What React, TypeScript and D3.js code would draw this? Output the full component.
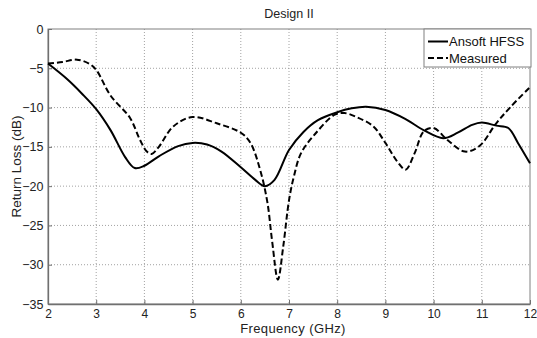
import { useEffect, useRef } from "react";
import * as d3 from "d3";

const width = 537;
const height = 338;
const margin = { top: 29, right: 7, bottom: 34, left: 48 };

const xTicks = [2, 3, 4, 5, 6, 7, 8, 9, 10, 11, 12];
const yTicks = [0, -5, -10, -15, -20, -25, -30, -35];

// Ansoft HFSS (simulated)
const hfssFreq = [
  2, 2.4, 2.7, 3.0, 3.3, 3.6, 3.8, 4.0, 4.3, 4.7, 5.0, 5.3, 5.6, 6.0, 6.3,
  6.5, 6.7, 7.0, 7.3, 7.6, 8.0, 8.3, 8.6, 9.0, 9.4, 9.8, 10.2, 10.5, 10.8,
  11.0, 11.3, 11.55, 11.75, 12,
];
const hfssLoss = [
  -4.4, -6.4, -8.2, -10.2, -12.9, -16.3, -17.7, -17.4, -16.2, -14.9, -14.5,
  -14.7, -15.6, -17.6, -19.2, -20.0, -19.2, -15.4, -13.1, -11.6, -10.6, -10.1,
  -9.9, -10.3, -11.4, -12.9, -13.9, -13.2, -12.2, -11.9, -12.3, -12.6, -14.5,
  -17.1,
];

// Measured
const measFreq = [
  2, 2.3, 2.6, 2.85, 3.0, 3.3, 3.7, 3.9, 4.05, 4.15, 4.3, 4.6, 5.0, 5.5, 6.0,
  6.2, 6.4, 6.55, 6.65, 6.77, 6.88, 7.0, 7.1, 7.25, 7.55, 7.95, 8.15, 8.4,
  8.75, 9.0, 9.25, 9.42, 9.6, 9.8, 10.0, 10.3, 10.65, 10.95, 11.3, 11.6, 12,
];
const measLoss = [
  -4.4, -4.2, -3.9, -4.4, -5.2, -8.5, -11.3, -14.0, -15.6, -15.9, -15.0, -12.4,
  -11.2, -12.0, -13.2, -14.5, -17.9, -22.0, -27.0, -31.9, -27.7, -21.8, -18.8,
  -15.8, -13.3, -10.9, -10.7, -11.2, -12.4, -14.5, -16.9, -17.9, -15.9, -13.0,
  -12.6, -14.2, -15.6, -14.9, -12.0, -9.9, -7.4,
];

const legendItems = [
  { label: "Ansoft HFSS", dash: null },
  { label: "Measured", dash: "6 3" },
];

type Pt = [number, number];

export default function App() {
  const svgRef = useRef<SVGSVGElement | null>(null);

  useEffect(() => {
    if (!svgRef.current) return;
    const svg = d3.select(svgRef.current);
    svg.selectAll("*").remove();

    const x = d3
      .scaleLinear()
      .domain([2, 12])
      .range([margin.left, width - margin.right]);
    const y = d3
      .scaleLinear()
      .domain([-35, 0])
      .range([height - margin.bottom, margin.top]);

    const font = "'Liberation Sans', Arial, sans-serif";

    svg
      .append("rect")
      .attr("width", width)
      .attr("height", height)
      .attr("fill", "#fff");

    // grid
    const grid = svg.append("g");
    grid
      .selectAll("line.gx")
      .data(xTicks.slice(1, -1))
      .join("line")
      .attr("x1", (d) => x(d))
      .attr("x2", (d) => x(d))
      .attr("y1", y(0))
      .attr("y2", y(-35))
      .attr("stroke", "#8a8a8a")
      .attr("stroke-width", 0.8)
      .attr("stroke-dasharray", "1 2");
    grid
      .selectAll("line.gy")
      .data(yTicks.slice(1, -1))
      .join("line")
      .attr("x1", x(2))
      .attr("x2", x(12))
      .attr("y1", (d) => y(d))
      .attr("y2", (d) => y(d))
      .attr("stroke", "#8a8a8a")
      .attr("stroke-width", 0.8)
      .attr("stroke-dasharray", "1 2");

    // frame
    svg
      .append("rect")
      .attr("x", x(2))
      .attr("y", y(0))
      .attr("width", x(12) - x(2))
      .attr("height", y(-35) - y(0))
      .attr("fill", "none")
      .attr("stroke", "#808080")
      .attr("stroke-width", 1);

    // axes
    const xAxis = svg
      .append("g")
      .attr("transform", `translate(0,${y(-35)})`)
      .call(
        d3
          .axisBottom(x)
          .tickValues(xTicks)
          .tickSizeInner(-4)
          .tickSizeOuter(0)
          .tickPadding(5)
          .tickFormat(d3.format("d")),
      );
    xAxis.select(".domain").attr("stroke", "#707070").attr("stroke-width", 1.3);
    xAxis.selectAll(".tick line").attr("stroke", "#707070");
    xAxis
      .selectAll("text")
      .attr("fill", "#222")
      .style("font-family", font)
      .style("font-size", "12px");

    const yAxis = svg
      .append("g")
      .attr("transform", `translate(${x(2)},0)`)
      .call(
        d3
          .axisLeft(y)
          .tickValues(yTicks)
          .tickSizeInner(-4)
          .tickSizeOuter(0)
          .tickPadding(4.5)
          .tickFormat(d3.format("d")),
      );
    yAxis.select(".domain").attr("stroke", "#707070").attr("stroke-width", 1.3);
    yAxis.selectAll(".tick line").attr("stroke", "#707070");
    yAxis
      .selectAll("text")
      .attr("fill", "#222")
      .style("font-family", font)
      .style("font-size", "12.5px");

    // curves
    const line = d3
      .line<Pt>()
      .x((d) => x(d[0]))
      .y((d) => y(d[1]))
      .curve(d3.curveCatmullRom.alpha(0.5));

    const hfss: Pt[] = hfssFreq.map((f, i) => [f, hfssLoss[i]]);
    const meas: Pt[] = measFreq.map((f, i) => [f, measLoss[i]]);

    svg
      .append("path")
      .datum(hfss)
      .attr("d", line)
      .attr("fill", "none")
      .attr("stroke", "#000")
      .attr("stroke-width", 2);

    svg
      .append("path")
      .datum(meas)
      .attr("d", line)
      .attr("fill", "none")
      .attr("stroke", "#000")
      .attr("stroke-width", 2)
      .attr("stroke-dasharray", "6 3");

    // legend
    const lg = svg.append("g").attr("transform", `translate(424,29)`);
    lg.append("rect")
      .attr("width", 107)
      .attr("height", 38)
      .attr("fill", "#fff")
      .attr("stroke", "#808080");
    legendItems.forEach((item, i) => {
      const cy = 12.5 + i * 16.5;
      lg.append("line")
        .attr("x1", 4)
        .attr("x2", 24)
        .attr("y1", cy)
        .attr("y2", cy)
        .attr("stroke", "#000")
        .attr("stroke-width", 2)
        .attr("stroke-dasharray", item.dash ?? null);
      lg.append("text")
        .attr("x", 25)
        .attr("y", cy + 4.5)
        .attr("fill", "#111")
        .style("font-family", font)
        .style("font-size", "13px")
        .text(item.label);
    });

    // titles
    svg
      .append("text")
      .attr("x", (x(2) + x(12)) / 2)
      .attr("y", 17.5)
      .attr("text-anchor", "middle")
      .attr("fill", "#222")
      .style("font-family", font)
      .style("font-size", "12.5px")
      .text("Design II");

    svg
      .append("text")
      .attr("x", 293)
      .attr("y", 333)
      .attr("text-anchor", "middle")
      .attr("fill", "#222")
      .style("font-family", font)
      .style("font-size", "13px")
      .style("letter-spacing", "0.4px")
      .text("Frequency (GHz)");

    svg
      .append("text")
      .attr("transform", `translate(21,${(y(0) + y(-35)) / 2}) rotate(-90)`)
      .attr("text-anchor", "middle")
      .attr("fill", "#222")
      .style("font-family", font)
      .style("font-size", "13.5px")
      .text("Return Loss (dB)");
  }, []);

  return (
    <div style={{ position: "fixed", left: 0, top: 0 }}>
      <svg ref={svgRef} width={width} height={height} />
    </div>
  );
}
